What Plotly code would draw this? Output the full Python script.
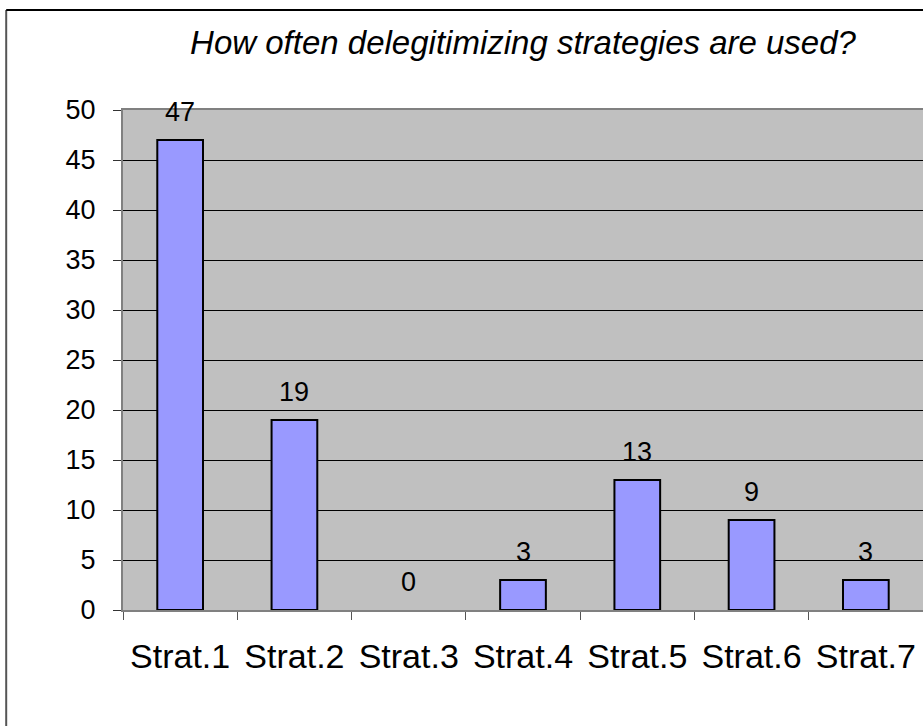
import plotly.graph_objects as go

# data
categories = ['Strat.1', 'Strat.2', 'Strat.3', 'Strat.4', 'Strat.5', 'Strat.6', 'Strat.7']
counts = [47, 19, 0, 3, 13, 9, 3]
y_ticks = [0, 5, 10, 15, 20, 25, 30, 35, 40, 45, 50]

font_family = 'Liberation Sans, Arial, sans-serif'

fig = go.Figure()
fig.add_trace(go.Bar(x=categories, y=counts,
                     marker={'color': '#9999FF',
                             'line': {'color': 'black', 'width': [2 if v else 0 for v in counts]}},
                     width=0.4))

# value labels above the bars
for cat, val in zip(categories, counts):
  fig.add_annotation(x=cat, y=val, text=str(val), showarrow=False,
                     yanchor='middle', yshift=28,
                     font={'size': 27, 'color': 'black', 'family': font_family})

# outer frame (only left and top edges visible in the picture)
fig.add_shape(type='line', xref='paper', yref='paper', x0=-0.146, x1=-0.146, y0=1.2, y1=-0.3,
              line={'color': '#555555', 'width': 2})
fig.add_shape(type='line', xref='paper', yref='paper', x0=-0.146, x1=1.05, y0=1.2, y1=1.2,
              line={'color': 'black', 'width': 2})

fig.update_layout(
  width=923, height=726,
  margin={'l': 123, 'r': 0, 't': 110, 'b': 116},
  paper_bgcolor='white', plot_bgcolor='#C0C0C0',
  showlegend=False,
  font={'family': font_family, 'color': 'black'},
  title={'text': '<i>How often delegitimizing strategies are used?</i>',
         'x': 0.5, 'xref': 'paper', 'y': 0.942, 'yanchor': 'middle',
         'font': {'size': 33, 'family': font_family, 'color': 'black'}},
  bargap=0.6,
)
fig.update_xaxes(showgrid=False, ticks='outside', tickson='boundaries', ticklen=8,
                 tickcolor='#555555', showline=True, linecolor='#808080', linewidth=2,
                 mirror=True, tickfont={'size': 34}, ticklabelstandoff=15)
fig.update_yaxes(range=[0, 50], tickvals=y_ticks, showgrid=True, gridcolor='black', gridwidth=1,
                 ticks='outside', ticklen=8, tickcolor='#333333', showline=True,
                 linecolor='#808080', linewidth=2, zeroline=False,
                 tickfont={'size': 27}, ticklabelstandoff=12)

fig.write_html("out.html", config={'displayModeBar': False},
               post_script="document.body.style.margin='0';")
